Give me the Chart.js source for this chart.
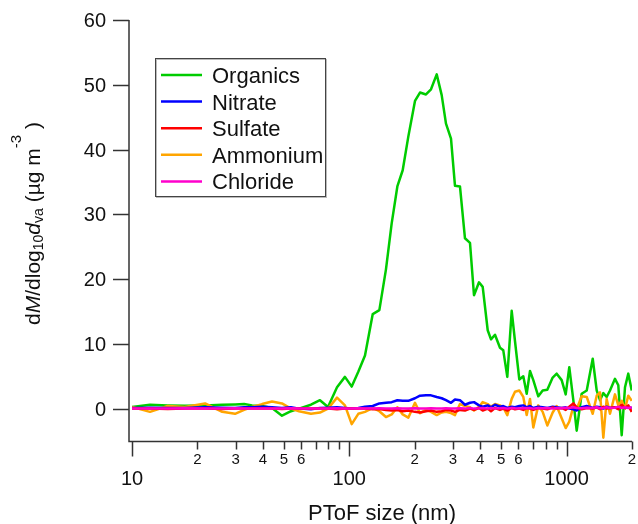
<!DOCTYPE html>
<html><head><meta charset="utf-8">
<script src="https://cdn.jsdelivr.net/npm/chart.js@4"></script>
<style>html,body{margin:0;padding:0;background:#fff}canvas{display:block}</style>
</head><body>
<canvas id="c" width="638" height="524"></canvas>
<script>
// PToF size (nm)
const sizes = [
  10.0, 12.1, 14.6, 17.5, 21.7, 26.0, 29.8, 32.8, 35.7, 39.7,
  44.1, 49.0, 53.9, 58.7, 66.6, 73.3, 79.8, 87.8, 95.5,
  102.6, 110.0, 118.1, 128.2, 137.5, 147.5, 156.7, 166.4, 176.1, 186.9,
  200.6, 211.5, 225.4, 237.7, 252.5, 266.2, 278.6, 293.8, 306.5, 323.1,
  340.7, 359.3, 374.9, 395.3, 411.1,
  433.5, 448.9, 468.3, 493.7, 511.3, 533.5, 559.0, 578.9, 605.9, 632.1,
  655.3, 678.6, 702.8, 741.0, 776.3, 815.2, 863.0, 900.4, 949.3, 990.6,
  1029, 1074, 1113, 1173, 1238, 1319, 1376, 1425, 1476, 1529,
  1584, 1670, 1730, 1793, 1857, 1923, 1994
];
const organics = [
  0.25, 0.6, 0.5, 0.45, 0.5, 0.6, 0.65, 0.7, 0.5, 0.4,
  0.1, -1.1, -0.4, 0.0, 0.6, 1.3, 0.25, 3.3, 4.9,
  3.4, 5.7, 8.2, 14.6, 15.2, 21.5, 28.6, 34.3, 36.8, 42.0,
  47.5, 48.8, 48.5, 49.3, 51.6, 48.4, 44.0, 41.7, 34.4, 34.3,
  26.3, 25.6, 17.5, 19.5, 18.8,
  12.1, 10.7, 11.4, 9.4, 9.0, 4.9, 15.1, 10.4, 4.5, 5.0,
  2.3, 5.8, 4.4, 1.9, 2.8, 2.9, 4.8, 5.4, 4.4, 2.2,
  6.4, 1.3, -3.4, 2.3, 2.8, 7.7, 2.8, 1.3, 2.4, 1.8,
  2.8, 4.6, 3.6, -4.1, 3.3, 5.4, 2.8
];
const nitrate = [
  0.1, 0.15, 0.1, 0.1, 0.2, 0.15, 0.1, 0.2, 0.2, 0.3,
  0.2, 0.1, 0.2, 0.0, -0.1, 0.1, 0.15, 0.2, 0.1,
  0.0, 0.1, 0.3, 0.4, 0.8, 0.9, 1.0, 1.3, 1.2, 1.2,
  1.6, 2.0, 2.05, 2.05, 1.8, 1.6, 1.3, 0.9, 1.4, 1.3,
  0.6, 0.9, 1.0, 0.5, 0.3,
  0.5, 0.2, 0.6, 0.3, 0.4, 0.1, 0.3, 0.2, 0.4, 0.5,
  0.2, 0.4, 0.1, 0.3, 0.2, 0.1, 0.3, 0.2, 0.1, 0.2,
  0.0, -0.1, -0.3, 0.2, 0.4, 0.1, 0.3, 0.2, 0.0, 0.3,
  0.1, 0.2, 0.0, 0.3, 0.1, 0.2, 0.1
];
const sulfate = [
  0.0, 0.0, -0.05, 0.0, 0.0, -0.05, 0.0, 0.0, 0.0, 0.0,
  0.0, -0.05, 0.0, 0.0, 0.0, 0.0, 0.0, -0.1, 0.0,
  0.0, 0.0, 0.0, -0.1, -0.05, -0.2, -0.3, -0.2, -0.4, -0.3,
  -0.5, -0.6, -0.4, -0.3, -0.5, -0.4, -0.2, -0.3, -0.5, -0.2,
  -0.3, 0.0, -0.2, 0.1, -0.3,
  0.0, -0.4, 0.1, -0.2, 0.0, -0.3, 0.1, -0.1, 0.0, -0.2,
  0.1, 0.0, -0.2, 0.1, 0.0, -0.1, 0.2, 0.0, 0.1, -0.2,
  0.3, 0.8, 0.2, -0.1, 0.1, 0.0, 0.2, -0.1, 0.3, 0.0,
  0.1, 0.2, -0.1, 0.6, 0.1, 0.5, -0.5
];
const ammonium = [
  0.25, -0.5, 0.4, 0.25, 0.8, -0.5, -0.8, -0.2, 0.25, 0.7,
  1.1, 0.8, 0.0, -0.4, -0.8, -0.6, 0.0, 1.7, 0.5,
  -2.4, -0.8, -0.5, 0.1, -0.4, -1.3, -0.9, 0.2, -0.9, -1.4,
  0.9, -0.7, -0.2, -0.5, -1.0, -0.6, -0.5, -0.7, -1.0, 0.7,
  0.4, 0.2, -0.3, 0.3, 1.0,
  0.7, 0.3, 0.7, 0.5, 0.2, -1.0, 1.5, 2.6, 2.8, 1.8,
  -1.0, 1.5, -2.9, 0.5, -0.5, -2.6, -0.6, 0.4, -1.5, -3.0,
  -2.0, 0.3, -0.1, 1.9, 1.8, -0.8, 2.0, 2.5, -4.5, 1.5,
  -0.8, 2.2, 0.5, 1.2, 0.0, 2.0, 1.2
];
const chloride = [
  0.0, 0.0, 0.0, 0.05, 0.0, 0.0, 0.05, 0.0, 0.0, 0.0,
  0.0, 0.0, 0.05, 0.0, 0.0, 0.0, 0.0, 0.05, 0.0,
  0.0, 0.05, 0.0, 0.0, 0.05, 0.0, 0.0, 0.05, 0.0, 0.0,
  0.05, 0.0, 0.0, 0.05, 0.0, 0.0, 0.05, 0.0, 0.0, 0.05,
  0.0, 0.1, 0.0, 0.05, 0.1,
  0.0, 0.1, 0.0, 0.05, 0.1, 0.0, 0.1, 0.05, 0.0, 0.1,
  0.05, 0.1, 0.0, 0.1, 0.05, 0.1, 0.0, 0.1, 0.05, 0.15,
  0.1, 0.2, 0.1, 0.05, 0.15, 0.1, 0.2, 0.05, 0.1, 0.2,
  0.1, 0.15, 0.3, 0.1, 0.2, 0.1, 0.2
];
const seriesNames = ['Organics', 'Nitrate', 'Sulfate', 'Ammonium', 'Chloride'];
const seriesColors = ['#00CC00', '#0000FF', '#FF0000', '#FFA500', '#FF00CC'];
const yTickValues = [0, 10, 20, 30, 40, 50, 60];
const xMajorTicks = [10, 100, 1000];
const xMinorTicks = [20, 30, 40, 50, 60, 70, 80, 90, 200, 300, 400, 500, 600, 700, 800, 900, 2000];
const xMinorLabelValues = [20, 30, 40, 50, 60, 200, 300, 400, 500, 600, 2000];
const xMinorLabelTexts = ['2', '3', '4', '5', '6', '2', '3', '4', '5', '6', '2'];

const FONT = '"Liberation Sans", Arial, Helvetica, sans-serif';
const seriesValues = [organics, nitrate, sulfate, ammonium, chloride];
const drawOrder = [4, 2, 1, 3, 0];

const datasets = seriesNames.map((name, i) => ({
  label: name,
  data: sizes.map((s, k) => ({ x: s, y: seriesValues[i][k] })),
  borderColor: seriesColors[i],
  backgroundColor: seriesColors[i],
  borderWidth: 2.5,
  borderJoinStyle: 'round',
  pointRadius: 0,
  tension: 0,
  fill: false,
  order: drawOrder[i]
}));

const igorAxes = {
  id: 'igorAxes',
  afterDraw(chart) {
    const { ctx, chartArea: a, scales: { x, y } } = chart;
    ctx.save();
    const axX = a.left - 3, axY = a.bottom + 0.5;
    ctx.strokeStyle = '#333';
    ctx.lineWidth = 1.5;
    ctx.beginPath();
    ctx.moveTo(axX, y.getPixelForValue(60));
    ctx.lineTo(axX, axY);
    ctx.lineTo(a.right, axY);
    ctx.stroke();

    // y ticks & labels
    ctx.fillStyle = '#111';
    ctx.font = '20px ' + FONT;
    ctx.textAlign = 'right';
    ctx.textBaseline = 'middle';
    yTickValues.forEach(v => {
      const py = Math.round(y.getPixelForValue(v)) + 0.5;
      ctx.beginPath(); ctx.moveTo(axX - 16, py); ctx.lineTo(axX, py); ctx.stroke();
      ctx.fillText(String(v), axX - 23, py + 1);
    });

    // x ticks
    xMajorTicks.forEach(v => {
      const px = Math.round(x.getPixelForValue(v)) + 0.5;
      ctx.beginPath(); ctx.moveTo(px, axY); ctx.lineTo(px, axY + 15); ctx.stroke();
    });
    xMinorTicks.forEach(v => {
      const px = Math.round(x.getPixelForValue(v)) + 0.5;
      ctx.beginPath(); ctx.moveTo(px, axY); ctx.lineTo(px, axY + 8); ctx.stroke();
    });
    ctx.textAlign = 'center';
    ctx.font = '15px ' + FONT;
    xMinorLabelValues.forEach((v, i) => {
      const px = x.getPixelForValue(v);
      ctx.fillText(xMinorLabelTexts[i], Math.min(px, 632), 460);
    });
    ctx.font = '20px ' + FONT;
    xMajorTicks.forEach(v => {
      ctx.fillText(String(v), x.getPixelForValue(v), 479);
    });

    // x title
    ctx.font = '22px ' + FONT;
    ctx.textBaseline = 'alphabetic';
    ctx.fillText('PToF size (nm)', (a.left + a.right) / 2, 520);

    // y title (rich text)
    const segs = [
      { t: 'd', f: '21px ' + FONT, dy: 0 },
      { t: 'M', f: 'italic 21px ' + FONT, dy: 0 },
      { t: '/dlog', f: '21px ' + FONT, dy: 0 },
      { t: '10', f: '14px ' + FONT, dy: 3 },
      { t: 'd', f: 'italic 21px ' + FONT, dy: 0 },
      { t: 'va', f: '14px ' + FONT, dy: 3 },
      { t: ' (µg m', f: '21px ' + FONT, dy: 0 },
      { t: '-3', f: '15px ' + FONT, dy: -19 },
      { t: ' )', f: '21px ' + FONT, dy: 0 }
    ];
    let total = 0;
    segs.forEach(s => { ctx.font = s.f; s.w = ctx.measureText(s.t).width; total += s.w; });
    ctx.translate(39.5, 223.5);
    ctx.rotate(-Math.PI / 2);
    ctx.textAlign = 'left';
    let cx = -total / 2;
    segs.forEach(s => { ctx.font = s.f; ctx.fillText(s.t, cx, s.dy); cx += s.w; });
    ctx.restore();

    // legend
    ctx.save();
    ctx.strokeStyle = '#bbb';
    ctx.lineWidth = 1;
    ctx.strokeRect(156.5, 59.5, 170, 138);
    ctx.strokeStyle = '#444';
    ctx.strokeRect(155.5, 58.5, 170, 138);
    ctx.font = '22px ' + FONT;
    ctx.textAlign = 'left';
    ctx.textBaseline = 'alphabetic';
    chart.data.datasets.forEach((ds, i) => {
      const ly = 75 + 26.6 * i;
      ctx.strokeStyle = ds.borderColor;
      ctx.lineWidth = 2.5;
      ctx.beginPath(); ctx.moveTo(161, ly); ctx.lineTo(202, ly); ctx.stroke();
      ctx.fillStyle = '#111';
      ctx.fillText(ds.label, 212, ly + 8);
    });
    ctx.restore();
  }
};

new Chart(document.getElementById('c'), {
  type: 'line',
  data: { datasets },
  options: {
    responsive: false,
    animation: false,
    layout: { padding: { left: 132, right: 6, top: 20, bottom: 83 } },
    scales: {
      x: { type: 'logarithmic', min: 10, max: 2000, display: false },
      y: { type: 'linear', min: -5, max: 60, display: false }
    },
    plugins: { legend: { display: false }, tooltip: { enabled: false } }
  },
  plugins: [igorAxes]
});
</script>
</body></html>
